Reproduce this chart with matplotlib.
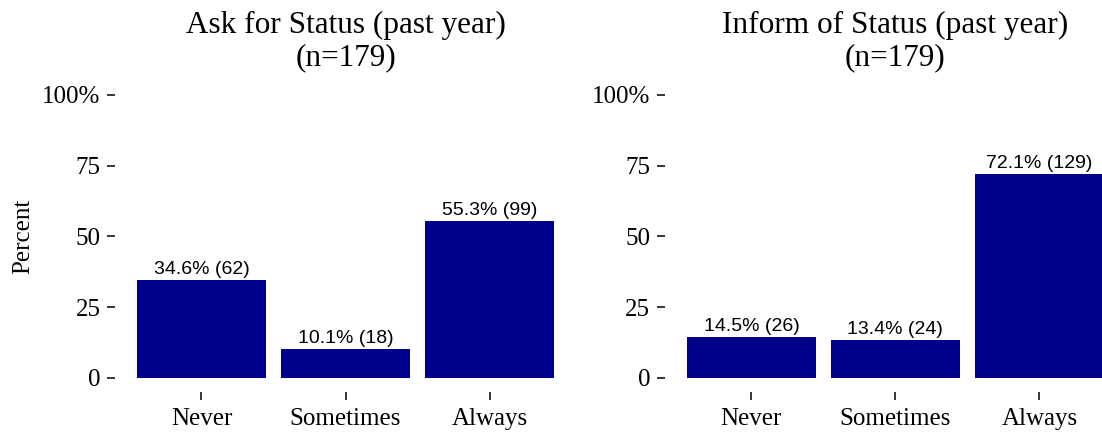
import matplotlib.pyplot as plt
import numpy as np

categories = ["Never", "Sometimes", "Always"]
ask_pct = [34.6, 10.1, 55.3]
ask_n = [62, 18, 99]
inform_pct = [14.5, 13.4, 72.1]
inform_n = [26, 24, 129]
titles = ["Ask for Status (past year)\n(n=179)", "Inform of Status (past year)\n(n=179)"]
yticks = [0, 25, 50, 75, 100]
yticklabels = ["0", "25", "50", "75", "100%"]

bar_color = "#00008B"
serif = "Liberation Serif"
sans = "Liberation Sans"

fig = plt.figure(figsize=(11.02, 4.34), dpi=100)
ax1 = fig.add_axes([0.1044, 0.0968, 0.4183, 0.717])
ax2 = fig.add_axes([0.6034, 0.0968, 0.4183, 0.717])


def draw_panel(ax, pct, counts, title, ylabel=None):
    x = np.arange(len(categories))
    bars = ax.bar(x, pct, width=0.9, color=bar_color)
    for b, p, n in zip(bars, pct, counts):
        ax.annotate(f"{p}% ({n})", (b.get_x() + b.get_width() / 2, b.get_height()),
                    xytext=(0, 1.5), textcoords="offset points",
                    ha="center", va="bottom", fontsize=14, family=sans)
    ax.set_xlim(-0.6, 2.6)
    ax.set_ylim(-5, 105)
    ax.set_xticks(x)
    ax.set_xticklabels(categories, family=serif, fontsize=18)
    ax.set_yticks(yticks)
    ax.set_yticklabels(yticklabels, family=serif, fontsize=18)
    ax.tick_params(axis="both", length=5.5, width=1.1, color="black")
    ax.tick_params(axis="y", pad=5)
    ax.tick_params(axis="x", pad=6)
    for s in ax.spines.values():
        s.set_visible(False)
    ax.set_title(title, family=serif, fontsize=22.5, linespacing=1.15, pad=11)
    if ylabel:
        ax.set_ylabel(ylabel, family=serif, fontsize=18, labelpad=6)


draw_panel(ax1, ask_pct, ask_n, titles[0], "Percent")
draw_panel(ax2, inform_pct, inform_n, titles[1])

fig.savefig("out.png", dpi=100)
